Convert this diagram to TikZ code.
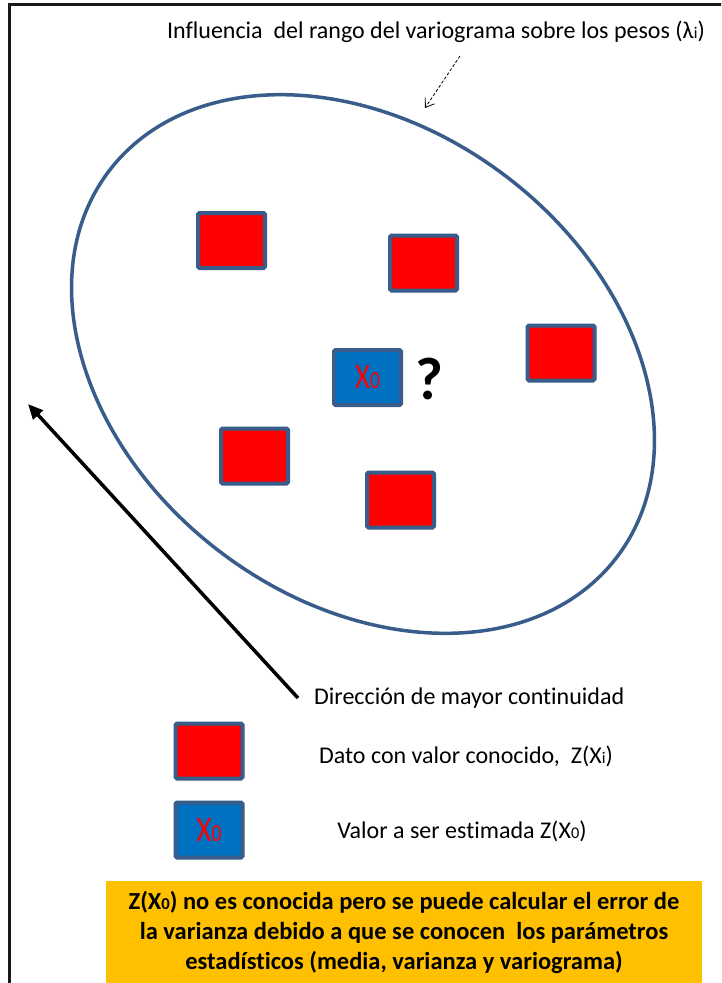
\documentclass[tikz,border=0pt]{standalone}
\usepackage{fontspec}
\usepackage{graphicx}
\setmainfont{Carlito}[Ligatures=NoCommon]
\usetikzlibrary{arrows.meta}
\definecolor{edgeblue}{HTML}{385D8A}
\definecolor{boxred}{HTML}{FF0000}
\definecolor{boxblue}{HTML}{0070C0}
\definecolor{noteorange}{HTML}{FFC000}
\newcommand{\idx}[1]{\scalebox{0.68}{#1}}
\newcommand{\bigX}{\scalebox{0.8}[1]{X\idx{0}}}
\tikzset{
  datum/.style={draw=edgeblue, line width=4pt, fill=boxred, rounded corners=1.5pt,
    minimum width=67pt, minimum height=55pt, inner sep=0pt},
  target/.style={datum, fill=boxblue, text=boxred, font=\fontsize{36}{36}\selectfont},
  lbl/.style={font=\fontsize{24}{28}\selectfont, inner sep=0pt},
  note/.style={fill=noteorange, minimum width=596pt, minimum height=102pt, inner sep=0pt,
    align=center, font=\bfseries\fontsize{24.5}{30}\selectfont},
}
\begin{document}
\begin{tikzpicture}[x=1pt, y=-1pt]
\clip (0,0) rectangle (721,983);
\fill[white] (0,0) rectangle (721,983);
% frame
\draw[line width=3pt, black!90] (9.5,995) -- (9.5,4.5) -- (730,4.5);
% title
\node[lbl] (title) at (436,32) {Influencia\ \ del rango del variograma sobre los pesos (λ\idx{i})};
\coordinate (dstart) at (460,56);
\coordinate (dend) at (425,108);
\draw[dashed, dash pattern=on 3pt off 2pt, line width=0.8pt, -{Straight Barb[length=8pt,width=11pt]}] (dstart) -- (dend);
% ellipse
\draw[edgeblue, line width=3.5pt] (363,364) ellipse [x radius=319pt, y radius=236pt, rotate=-37.2];
% data squares
\node[datum] (d1) at (231.5,240.5) {};
\node[datum] (d2) at (423.5,263) {};
\node[datum] (d3) at (561,353) {};
\node[datum] (d4) at (254.5,456) {};
\node[datum] (d5) at (400.5,500) {};
\node[target] (x0) at (367.5,377.5) {\bigX};
\node[inner sep=0pt, font=\bfseries\fontsize{60}{60}\selectfont] (q) at (429,379) {?};
% direction arrow
\node[lbl, anchor=west] (dir) at (314,698) {Dirección de mayor continuidad};
\coordinate (tail) at (298,698);
\coordinate (tip) at (28,404);
\draw[line width=3.5pt, -{Triangle[length=15pt,width=13pt]}] (tail) -- (tip);
% legend
\node[datum] (legd) at (209,751) {};
\node[lbl] (legdt) at (466,756) {Dato con valor conocido,\ \ Z(X\idx{i})};
\node[target] (legx) at (209,830) {\bigX};
\node[lbl] (legxt) at (462,831) {Valor a ser estimada Z(X\idx{0})};
% note
\node[note] (nt) at (404,932) {Z(X\idx{0}) no es conocida pero se puede calcular el error de\\la varianza debido a que se conocen\ \ los parámetros\\estadísticos (media, varianza y variograma)};
\end{tikzpicture}
\end{document}
